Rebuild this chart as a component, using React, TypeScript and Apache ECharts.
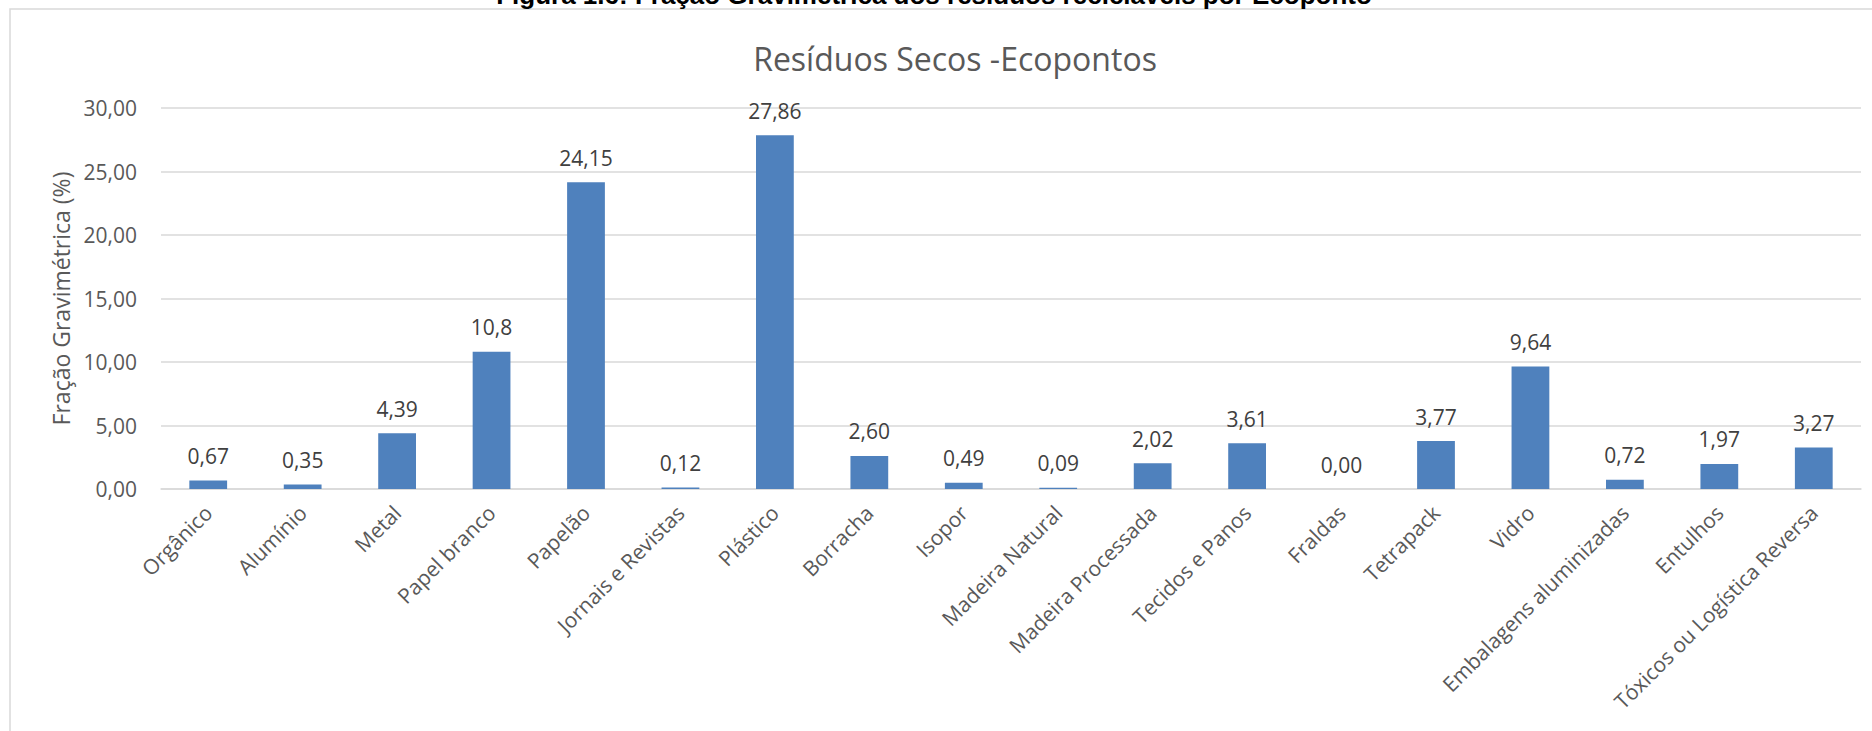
import React, { useEffect, useRef } from "react";
import * as echarts from "echarts";

const categories = [
  "Orgânico",
  "Alumínio",
  "Metal",
  "Papel branco",
  "Papelão",
  "Jornais e Revistas",
  "Plástico",
  "Borracha",
  "Isopor",
  "Madeira Natural",
  "Madeira Processada",
  "Tecidos e Panos",
  "Fraldas",
  "Tetrapack",
  "Vidro",
  "Embalagens aluminizadas",
  "Entulhos",
  "Tóxicos ou Logística Reversa",
];

const values = [0.67, 0.35, 4.39, 10.8, 24.15, 0.12, 27.86, 2.6, 0.49, 0.09, 2.02, 3.61, 0.0, 3.77, 9.64, 0.72, 1.97, 3.27];

const valueLabels = [
  "0,67", "0,35", "4,39", "10,8", "24,15", "0,12", "27,86", "2,60", "0,49",
  "0,09", "2,02", "3,61", "0,00", "3,77", "9,64", "0,72", "1,97", "3,27",
];

const chartTitle = "Resíduos Secos -Ecopontos";
const captionText = "Figura 1.6: Fração Gravimétrica dos resíduos recicláveis por Ecoponto";
const yAxisName = "Fração Gravimétrica (%)";

export default function App() {
  const ref = useRef<HTMLDivElement>(null);

  useEffect(() => {
    if (!ref.current) return;
    const chart = echarts.init(ref.current, undefined, { renderer: "svg" });
    const font = "'Open Sans', 'Noto Sans', sans-serif";
    chart.setOption({
      animation: false,
      backgroundColor: "#ffffff",
      title: {
        text: chartTitle,
        left: 950,
        top: 37,
        textAlign: "center",
        textStyle: { fontFamily: font, fontSize: 32, fontWeight: "normal", color: "#595959" },
      },
      graphic: [
        {
          type: "rect",
          z: -10,
          shape: { x: 10, y: 9, width: 1900, height: 800 },
          style: { fill: "none", stroke: "#d9d9d9", lineWidth: 1.5 },
          silent: true,
        },
        {
          type: "text",
          x: 934,
          y: 8,
          style: {
            text: captionText,
            fontFamily: "'Liberation Sans', Arial, sans-serif",
            fontWeight: "bold",
            fontSize: 26,
            fill: "#000000",
            textAlign: "center",
            textVerticalAlign: "bottom",
          },
        },
      ],
      grid: { left: 161, right: 11, top: 108, bottom: 242, containLabel: false },
      xAxis: {
        type: "category",
        data: categories,
        axisLine: { show: true, lineStyle: { color: "#d9d9d9", width: 1.5 } },
        axisTick: { show: false },
        axisLabel: {
          interval: 0,
          rotate: 45,
          margin: 20,
          fontFamily: font,
          fontSize: 21,
          color: "#595959",
        },
      },
      yAxis: {
        type: "value",
        min: 0,
        max: 30,
        interval: 5,
        name: yAxisName,
        nameLocation: "middle",
        nameRotate: 90,
        nameGap: 86,
        nameTextStyle: { fontFamily: font, fontSize: 23, color: "#595959" },
        axisLine: { show: false },
        axisTick: { show: false },
        splitLine: { lineStyle: { color: "#d9d9d9", width: 1.5 } },
        axisLabel: {
          margin: 24,
          fontFamily: font,
          fontSize: 21,
          color: "#595959",
          formatter: (v: number) => v.toFixed(2).replace(".", ","),
        },
      },
      series: [
        {
          type: "bar",
          data: values,
          barCategoryGap: "60%",
          itemStyle: { color: "#4f81bd" },
          label: {
            show: true,
            position: "top",
            distance: 14,
            fontFamily: font,
            fontSize: 21,
            color: "#404040",
            formatter: (p: any) => valueLabels[p.dataIndex],
          },
        },
      ],
    });
    return () => chart.dispose();
  }, []);

  return (
    <div
      ref={ref}
      style={{ position: "fixed", left: 0, top: 0, width: 1872, height: 731 }}
    />
  );
}
